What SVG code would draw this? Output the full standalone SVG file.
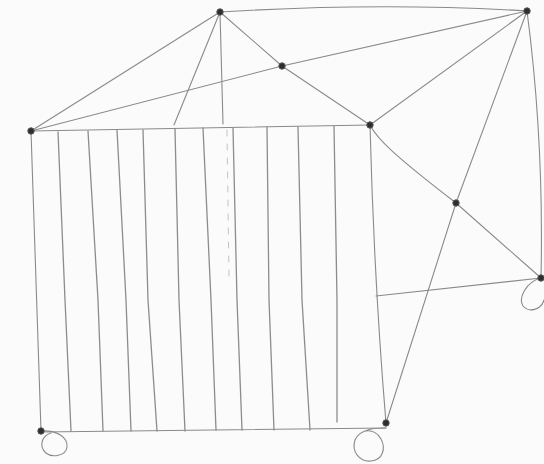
<svg xmlns="http://www.w3.org/2000/svg" width="544" height="464" viewBox="0 0 544 464">
<style>
.e{fill:none;stroke:#8a8a8a;stroke-width:1.1;stroke-linecap:round;stroke-linejoin:round}
.s{fill:none;stroke:#8c8c8c;stroke-width:1.3;stroke-linecap:round;stroke-linejoin:round}
.f{fill:none;stroke:#c4c4c4;stroke-width:1;stroke-linecap:round}
.n{fill:#2e2e2e;stroke:#555;stroke-width:1}
</style>
<rect width="544" height="464" fill="#fbfbfb"/>
<g id="connectors">
<path class="e" d="M220,12 Q380,2 527,11"/>
<path class="e" d="M220,12 L31,131"/>
<path class="e" d="M220,12 L174,125"/>
<path class="e" d="M220,12 L223,124"/>
<path class="e" d="M220,12 L282,66 L370,125"/>
<path class="e" d="M527,11 L282,66 L31,131"/>
<path class="e" d="M527,11 L370,125"/>
<path class="e" d="M527,11 Q490,110 456,203 L386,423"/>
<path class="e" d="M527,11 Q544,140 541,278"/>
<path class="e" d="M370,125 C377,139 395,156 456,203 L541,278"/>
<path class="e" d="M541,278 L376,296"/>
<path class="e" d="M31,131 L370,125"/>
<path class="e" d="M31,131 L41,431"/>
<path class="e" d="M370,125 Q374,280 386,423"/>
<path class="e" d="M41,432 L386,428"/>
<path class="e" d="M41,431 C58,430 68,438 67,447 C66,456 52,458 46,453 C39,447 41,436 51,433"/>
<path class="e" d="M386,428 C378,428 360,428 355,440 C351,452 360,462 371,461 C383,460 386,448 381,439 C378,433 372,430 366,431"/>
<path class="e" d="M541,278 C526,282 518,298 523,306 C529,313 541,310 544,300"/>
</g>
<g id="stripes">
<polyline class="s" points="58,132 65,300 71,431"/>
<polyline class="s" points="88,131 98,300 103,431"/>
<polyline class="s" points="117,130 126,300 131,431"/>
<polyline class="s" points="143,130 148,300 157,431"/>
<polyline class="s" points="175,129 179,300 185,431"/>
<polyline class="s" points="203,128 211,300 216,430"/>
<polyline class="s" points="233,128 237,300 242,430"/>
<polyline class="s" points="267,127 269,300 274,430"/>
<polyline class="s" points="298,127 302,300 310,430"/>
<polyline class="s" points="334,126 337,300 337,422"/>
<path class="f" d="M227,130 L229,280" stroke-dasharray="6 8"/>
</g>
<g id="A"><circle class="n" cx="220" cy="12" r="3.2"/></g>
<g id="B"><circle class="n" cx="527" cy="11" r="3.2"/></g>
<g id="C"><circle class="n" cx="282" cy="66" r="3.2"/></g>
<g id="D"><circle class="n" cx="31" cy="131" r="3.2"/></g>
<g id="E"><circle class="n" cx="370" cy="125" r="3.2"/></g>
<g id="F"><circle class="n" cx="456" cy="203" r="3.2"/></g>
<g id="G"><circle class="n" cx="541" cy="278" r="3.2"/></g>
<g id="H"><circle class="n" cx="41" cy="431" r="3.2"/></g>
<g id="I"><circle class="n" cx="386" cy="423" r="3.2"/></g>
</svg>
